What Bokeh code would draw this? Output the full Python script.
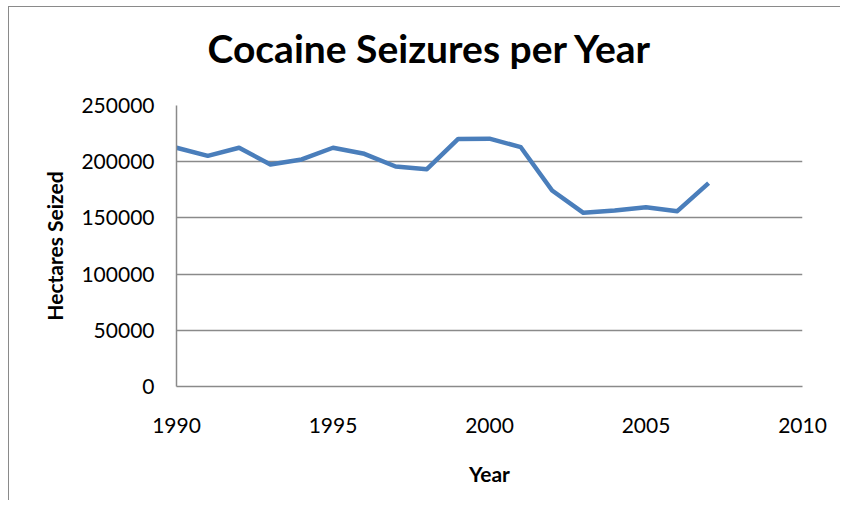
from bokeh.plotting import figure
from bokeh.models import Range1d, FixedTicker, NumeralTickFormatter, Title
from bokeh.embed import file_html
from bokeh.resources import INLINE

# Annual cocaine seizures
years = [1990, 1991, 1992, 1993, 1994, 1995, 1996, 1997, 1998,
         1999, 2000, 2001, 2002, 2003, 2004, 2005, 2006, 2007]
hectares = [212400, 205200, 212400, 197500, 202000, 212400, 207000, 195700, 193300,
            220300, 220500, 212900, 174400, 154500, 156600, 159500, 156000, 180900]

x_ticks = [1990, 1995, 2000, 2005, 2010]
y_ticks = [0, 50000, 100000, 150000, 200000, 250000]

FONT = "Lato"
GRAY = "#8a8a8a"

p = figure(
    width=832, height=494,
    output_backend="svg", toolbar_location=None,
    x_range=Range1d(1990, 2010), y_range=Range1d(0, 250000),
    min_border_left=167, min_border_right=39,
    min_border_top=98, min_border_bottom=115,
    title="Cocaine Seizures per Year",
    # chart area edge: thin rule on the top and left sides only
    styles={
        "margin-left": "9px", "margin-top": "7px",
        "box-shadow": f"-1px -1px 0 0 {GRAY}",
    },
)

p.title.text_font = FONT
p.title.text_font_size = "39px"
p.title.text_font_style = "bold"
p.title.text_color = "black"
p.title.align = "left"
p.title.offset = 31
p.title.standoff = 0

# blank band between the title and the plot area
p.add_layout(Title(text=" ", text_font_size="1px", standoff=32), "above")

p.outline_line_color = None
p.background_fill_color = "white"
p.border_fill_color = "white"

# axes
for ax in (p.xaxis[0], p.yaxis[0]):
    ax.axis_line_color = GRAY
    ax.axis_line_width = 1.5
    ax.major_tick_line_color = None
    ax.minor_tick_line_color = None
    ax.major_label_text_font = FONT
    ax.major_label_text_font_size = "21px"
    ax.major_label_text_color = "black"
    ax.axis_label_text_font = FONT
    ax.axis_label_text_font_size = "21px"
    ax.axis_label_text_font_style = "bold"
    ax.axis_label_text_color = "black"

p.xaxis.ticker = FixedTicker(ticks=x_ticks)
p.yaxis.ticker = FixedTicker(ticks=y_ticks)
p.yaxis.formatter = NumeralTickFormatter(format="0")
p.xaxis.major_label_standoff = 25
p.yaxis.major_label_standoff = 16
p.xaxis.axis_label = "Year"
p.yaxis.axis_label = "Hectares Seized"
p.xaxis.axis_label_standoff = 25
p.yaxis.axis_label_standoff = 11

p.xgrid.grid_line_color = None
p.ygrid.ticker = FixedTicker(ticks=y_ticks)
p.ygrid.grid_line_color = GRAY
p.ygrid.grid_line_width = 1.5

p.line(years, hectares, line_color="#4a7ebb", line_width=4.5, line_join="round")

open("out.html", "w").write(file_html(p, INLINE))
